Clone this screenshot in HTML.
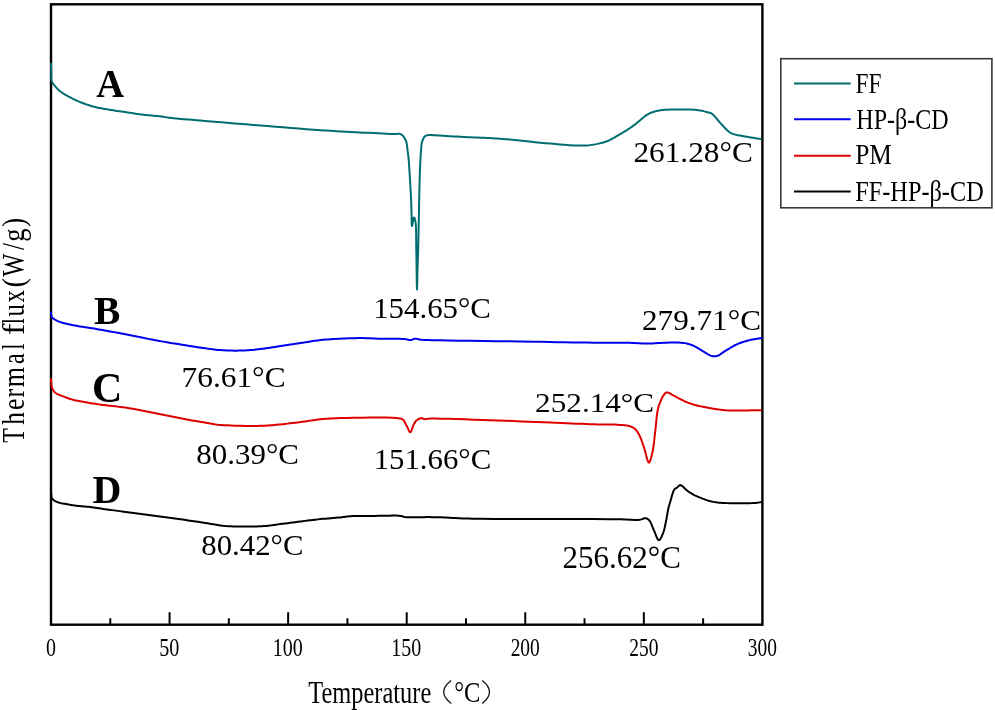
<!DOCTYPE html>
<html><head><meta charset="utf-8"><style>
html,body{margin:0;padding:0;background:#fff;}
body{width:995px;height:710px;overflow:hidden;}
svg{display:block;will-change:transform;}
text{font-family:"Liberation Serif", serif;fill:#000;}
</style></head><body>
<svg width="995" height="710" viewBox="0 0 995 710">
<rect x="51.0" y="4.3" width="711.4" height="620.4" fill="none" stroke="#000" stroke-width="2.4"/>
<path d="M110.28,624.70 V618.20 M169.57,624.70 V612.20 M228.85,624.70 V618.20 M288.13,624.70 V612.20 M347.42,624.70 V618.20 M406.70,624.70 V612.20 M465.98,624.70 V618.20 M525.27,624.70 V612.20 M584.55,624.70 V618.20 M643.83,624.70 V612.20 M703.12,624.70 V618.20" stroke="#000" stroke-width="2" fill="none"/>
<path d="M51.10,63.80 L51.12,64.82 L51.15,65.84 L51.17,66.86 L51.19,67.89 L51.21,68.91 L51.24,69.93 L51.27,70.96 L51.30,72.00 L51.32,73.10 L51.30,74.23 L51.28,75.37 L51.27,76.52 L51.28,77.64 L51.35,78.72 L51.48,79.75 L51.70,80.70 L51.94,81.40 L52.22,82.06 L52.53,82.67 L52.88,83.26 L53.27,83.84 L53.68,84.41 L54.13,84.99 L54.60,85.60 L55.23,86.39 L55.91,87.19 L56.63,87.99 L57.40,88.80 L58.23,89.60 L59.12,90.41 L60.07,91.21 L61.10,92.00 L62.72,93.14 L64.54,94.29 L66.52,95.45 L68.61,96.60 L70.77,97.73 L72.95,98.81 L75.11,99.84 L77.20,100.80 L79.17,101.66 L81.16,102.47 L83.15,103.24 L85.14,103.97 L87.15,104.66 L89.16,105.31 L91.18,105.92 L93.20,106.50 L95.19,107.02 L97.20,107.49 L99.21,107.91 L101.22,108.30 L103.24,108.66 L105.26,109.01 L107.28,109.35 L109.30,109.70 L111.31,110.04 L113.32,110.36 L115.33,110.66 L117.35,110.95 L119.36,111.23 L121.37,111.52 L123.39,111.81 L125.40,112.10 L127.41,112.41 L129.42,112.72 L131.44,113.03 L133.45,113.35 L135.46,113.66 L137.47,113.96 L139.49,114.24 L141.50,114.50 L143.51,114.73 L145.52,114.94 L147.54,115.14 L149.55,115.32 L151.57,115.50 L153.58,115.68 L155.59,115.88 L157.60,116.10 L159.57,116.34 L161.48,116.59 L163.37,116.86 L165.27,117.13 L167.21,117.40 L169.22,117.67 L171.34,117.94 L173.60,118.20 L176.96,118.55 L180.50,118.88 L184.21,119.20 L188.09,119.53 L192.12,119.85 L196.28,120.19 L200.58,120.53 L205.00,120.90 L211.15,121.42 L217.68,121.97 L224.49,122.54 L231.53,123.13 L238.70,123.73 L245.94,124.33 L253.17,124.92 L260.30,125.50 L267.80,126.11 L275.49,126.73 L283.28,127.37 L291.08,127.99 L298.81,128.60 L306.36,129.18 L313.65,129.72 L320.60,130.20 L325.95,130.55 L331.11,130.86 L336.13,131.15 L341.02,131.42 L345.83,131.67 L350.57,131.92 L355.29,132.16 L360.00,132.40 L364.47,132.63 L369.11,132.87 L373.79,133.10 L378.39,133.33 L382.77,133.53 L386.82,133.72 L390.40,133.88 L393.40,134.00 L394.59,134.01 L395.68,133.98 L396.67,133.91 L397.59,133.86 L398.44,133.83 L399.24,133.86 L399.99,133.98 L400.70,134.20 L401.24,134.46 L401.73,134.78 L402.19,135.15 L402.61,135.56 L403.01,136.00 L403.39,136.46 L403.75,136.93 L404.10,137.40 L404.45,137.89 L404.77,138.40 L405.07,138.93 L405.35,139.48 L405.62,140.05 L405.86,140.64 L406.09,141.26 L406.30,141.90 L406.54,142.77 L406.73,143.69 L406.89,144.66 L407.02,145.66 L407.14,146.69 L407.25,147.73 L407.37,148.77 L407.50,149.80 L407.65,150.89 L407.80,151.98 L407.94,153.09 L408.08,154.20 L408.22,155.32 L408.35,156.47 L408.48,157.62 L408.60,158.80 L408.72,160.13 L408.83,161.48 L408.93,162.84 L409.03,164.23 L409.12,165.63 L409.21,167.06 L409.30,168.52 L409.40,170.00 L409.51,171.73 L409.63,173.51 L409.74,175.32 L409.85,177.16 L409.97,179.02 L410.08,180.91 L410.19,182.80 L410.30,184.70 L410.42,186.77 L410.54,188.87 L410.66,191.01 L410.78,193.16 L410.90,195.31 L411.01,197.44 L411.11,199.54 L411.20,201.60 L411.27,203.47 L411.33,205.34 L411.38,207.20 L411.42,209.04 L411.46,210.84 L411.50,212.61 L411.55,214.33 L411.60,216.00 L411.63,217.47 L411.65,219.09 L411.67,220.75 L411.68,222.35 L411.72,223.78 L411.77,224.93 L411.86,225.71 L412.00,226.00 L412.17,225.65 L412.39,224.69 L412.63,223.34 L412.90,221.78 L413.18,220.21 L413.46,218.85 L413.74,217.88 L414.00,217.50 L414.19,217.60 L414.39,217.89 L414.59,218.34 L414.79,218.92 L414.99,219.61 L415.17,220.37 L415.35,221.18 L415.50,222.00 L415.79,224.31 L415.99,227.19 L416.10,230.52 L416.16,234.19 L416.19,238.09 L416.21,242.10 L416.24,246.11 L416.30,250.00 L416.40,255.14 L416.49,261.22 L416.58,267.75 L416.67,274.20 L416.75,280.10 L416.83,284.93 L416.91,288.20 L417.00,289.40 L417.06,288.84 L417.12,287.30 L417.18,285.01 L417.24,282.19 L417.30,279.05 L417.36,275.83 L417.43,272.74 L417.50,270.00 L417.58,267.43 L417.66,264.93 L417.75,262.44 L417.84,259.92 L417.93,257.32 L418.02,254.58 L418.11,251.66 L418.20,248.50 L418.34,242.72 L418.49,235.99 L418.64,228.65 L418.79,221.06 L418.94,213.55 L419.07,206.47 L419.19,200.17 L419.30,195.00 L419.34,192.87 L419.38,190.98 L419.42,189.27 L419.45,187.68 L419.48,186.15 L419.51,184.62 L419.55,183.02 L419.60,181.30 L419.66,179.26 L419.72,177.15 L419.79,175.01 L419.86,172.84 L419.94,170.68 L420.02,168.53 L420.11,166.43 L420.20,164.40 L420.28,162.62 L420.37,160.85 L420.46,159.10 L420.55,157.38 L420.65,155.69 L420.75,154.05 L420.87,152.45 L421.00,150.90 L421.10,149.67 L421.19,148.46 L421.27,147.28 L421.37,146.13 L421.49,145.01 L421.64,143.93 L421.84,142.89 L422.10,141.90 L422.36,141.09 L422.63,140.27 L422.94,139.47 L423.27,138.71 L423.63,137.99 L424.03,137.34 L424.45,136.77 L424.90,136.30 L425.26,136.02 L425.63,135.79 L426.02,135.61 L426.42,135.47 L426.85,135.36 L427.30,135.26 L427.78,135.18 L428.30,135.10 L429.18,135.01 L430.13,134.98 L431.14,135.00 L432.22,135.05 L433.38,135.14 L434.61,135.23 L435.92,135.32 L437.30,135.40 L439.96,135.54 L442.99,135.72 L446.29,135.92 L449.79,136.14 L453.39,136.38 L457.02,136.60 L460.58,136.81 L464.00,137.00 L467.29,137.16 L470.60,137.29 L473.91,137.42 L477.22,137.54 L480.50,137.66 L483.73,137.79 L486.90,137.94 L490.00,138.10 L492.62,138.26 L495.12,138.41 L497.53,138.58 L499.93,138.75 L502.36,138.93 L504.88,139.13 L507.54,139.36 L510.40,139.60 L514.79,140.01 L519.55,140.50 L524.58,141.03 L529.79,141.60 L535.08,142.16 L540.38,142.70 L545.58,143.19 L550.60,143.60 L555.29,143.98 L560.03,144.38 L564.78,144.79 L569.49,145.15 L574.10,145.43 L578.55,145.59 L582.81,145.59 L586.80,145.40 L589.64,145.13 L592.38,144.79 L595.01,144.37 L597.55,143.87 L600.00,143.30 L602.38,142.67 L604.67,141.97 L606.90,141.20 L608.74,140.47 L610.52,139.64 L612.25,138.75 L613.91,137.82 L615.52,136.87 L617.08,135.93 L618.57,135.04 L620.00,134.20 L621.04,133.61 L622.03,133.04 L622.98,132.49 L623.90,131.94 L624.79,131.40 L625.68,130.85 L626.58,130.29 L627.50,129.70 L628.44,129.08 L629.36,128.47 L630.27,127.85 L631.18,127.22 L632.11,126.57 L633.06,125.89 L634.06,125.17 L635.10,124.40 L636.61,123.21 L638.20,121.86 L639.87,120.41 L641.58,118.91 L643.33,117.44 L645.09,116.06 L646.86,114.82 L648.60,113.80 L650.10,113.09 L651.63,112.47 L653.17,111.94 L654.71,111.49 L656.25,111.10 L657.77,110.76 L659.26,110.47 L660.70,110.20 L661.87,110.01 L662.97,109.88 L664.04,109.79 L665.10,109.73 L666.18,109.69 L667.31,109.67 L668.50,109.64 L669.80,109.60 L671.95,109.53 L674.35,109.48 L676.94,109.44 L679.61,109.41 L682.28,109.40 L684.86,109.41 L687.26,109.44 L689.40,109.50 L690.69,109.55 L691.90,109.60 L693.03,109.66 L694.12,109.73 L695.18,109.82 L696.24,109.92 L697.30,110.05 L698.40,110.20 L699.55,110.39 L700.73,110.60 L701.92,110.84 L703.10,111.10 L704.26,111.38 L705.37,111.65 L706.42,111.93 L707.40,112.20 L708.05,112.37 L708.66,112.52 L709.23,112.66 L709.78,112.80 L710.33,112.97 L710.87,113.18 L711.42,113.45 L712.00,113.80 L712.91,114.50 L713.83,115.38 L714.76,116.41 L715.70,117.53 L716.65,118.70 L717.60,119.88 L718.55,121.03 L719.50,122.10 L720.44,123.13 L721.40,124.18 L722.36,125.25 L723.33,126.30 L724.28,127.32 L725.22,128.29 L726.13,129.19 L727.00,130.00 L727.59,130.53 L728.12,131.01 L728.64,131.47 L729.14,131.89 L729.67,132.29 L730.24,132.67 L730.88,133.04 L731.60,133.40 L732.91,133.92 L734.40,134.38 L736.04,134.79 L737.79,135.16 L739.61,135.51 L741.46,135.84 L743.30,136.17 L745.10,136.50 L747.02,136.85 L748.98,137.19 L750.96,137.50 L752.96,137.80 L754.98,138.10 L756.99,138.40 L759.00,138.69 L761.00,139.00" stroke="#006e6e" stroke-width="2" fill="none" stroke-linejoin="round" stroke-linecap="round"/>
<path d="M51.00,312.20 L51.05,312.68 L51.09,313.18 L51.13,313.68 L51.16,314.18 L51.21,314.67 L51.28,315.14 L51.37,315.59 L51.50,316.00 L51.63,316.32 L51.77,316.61 L51.91,316.89 L52.08,317.16 L52.27,317.42 L52.48,317.68 L52.72,317.93 L53.00,318.20 L53.52,318.64 L54.13,319.08 L54.80,319.52 L55.55,319.95 L56.36,320.38 L57.23,320.80 L58.14,321.21 L59.10,321.60 L60.71,322.18 L62.51,322.73 L64.46,323.26 L66.52,323.76 L68.66,324.24 L70.85,324.71 L73.04,325.16 L75.20,325.60 L77.57,326.05 L79.96,326.46 L82.39,326.84 L84.85,327.21 L87.37,327.57 L89.94,327.95 L92.58,328.35 L95.30,328.80 L98.77,329.40 L102.40,330.04 L106.15,330.71 L109.97,331.41 L113.85,332.13 L117.73,332.85 L121.60,333.58 L125.40,334.30 L129.17,335.03 L132.95,335.79 L136.72,336.56 L140.50,337.33 L144.27,338.10 L148.05,338.86 L151.82,339.59 L155.60,340.30 L159.36,340.98 L163.12,341.63 L166.88,342.27 L170.64,342.90 L174.40,343.51 L178.17,344.11 L181.93,344.71 L185.70,345.30 L189.53,345.90 L193.46,346.53 L197.43,347.15 L201.38,347.77 L205.25,348.34 L209.00,348.87 L212.57,349.33 L215.90,349.70 L218.16,349.91 L220.31,350.09 L222.37,350.23 L224.36,350.34 L226.30,350.43 L228.21,350.50 L230.10,350.56 L232.00,350.60 L233.68,350.63 L235.32,350.64 L236.93,350.64 L238.53,350.62 L240.12,350.59 L241.72,350.54 L243.34,350.48 L245.00,350.40 L246.82,350.30 L248.65,350.18 L250.49,350.05 L252.35,349.90 L254.24,349.72 L256.15,349.54 L258.10,349.33 L260.10,349.10 L262.48,348.80 L264.93,348.46 L267.43,348.09 L269.97,347.70 L272.54,347.30 L275.11,346.89 L277.67,346.49 L280.20,346.10 L282.71,345.73 L285.22,345.35 L287.74,344.98 L290.25,344.60 L292.76,344.23 L295.27,343.85 L297.79,343.48 L300.30,343.10 L302.81,342.71 L305.32,342.31 L307.83,341.90 L310.34,341.50 L312.86,341.11 L315.37,340.74 L317.88,340.40 L320.40,340.10 L322.91,339.84 L325.42,339.62 L327.93,339.42 L330.44,339.25 L332.96,339.10 L335.47,338.96 L337.99,338.83 L340.50,338.70 L343.01,338.58 L345.52,338.47 L348.04,338.36 L350.55,338.28 L353.06,338.20 L355.57,338.15 L358.09,338.11 L360.60,338.10 L363.10,338.12 L365.58,338.17 L368.06,338.25 L370.54,338.34 L373.03,338.44 L375.55,338.54 L378.10,338.63 L380.70,338.70 L383.72,338.75 L386.95,338.77 L390.28,338.78 L393.61,338.79 L396.84,338.81 L399.85,338.86 L402.54,338.95 L404.80,339.10 L405.77,339.22 L406.65,339.38 L407.45,339.57 L408.19,339.75 L408.89,339.92 L409.57,340.04 L410.23,340.11 L410.90,340.10 L411.44,340.01 L411.95,339.84 L412.43,339.63 L412.90,339.40 L413.37,339.16 L413.86,338.95 L414.36,338.79 L414.90,338.70 L415.56,338.69 L416.23,338.76 L416.90,338.88 L417.60,339.05 L418.34,339.23 L419.13,339.42 L419.98,339.58 L420.90,339.70 L422.67,339.85 L424.58,339.95 L426.64,340.03 L428.88,340.09 L431.31,340.14 L433.96,340.18 L436.85,340.23 L440.00,340.30 L448.37,340.47 L458.69,340.65 L470.43,340.83 L483.09,341.01 L496.14,341.18 L509.07,341.36 L521.36,341.53 L532.50,341.70 L540.90,341.84 L549.14,341.98 L557.20,342.13 L565.05,342.27 L572.69,342.40 L580.07,342.52 L587.18,342.62 L594.00,342.70 L599.04,342.73 L603.96,342.74 L608.73,342.73 L613.35,342.71 L617.81,342.70 L622.07,342.70 L626.14,342.73 L630.00,342.80 L632.60,342.88 L635.09,343.00 L637.46,343.13 L639.74,343.27 L641.95,343.40 L644.10,343.51 L646.21,343.58 L648.30,343.60 L649.97,343.57 L651.55,343.50 L653.07,343.40 L654.57,343.29 L656.07,343.17 L657.62,343.06 L659.26,342.97 L661.00,342.90 L663.57,342.82 L666.40,342.71 L669.39,342.60 L672.44,342.52 L675.48,342.49 L678.39,342.53 L681.10,342.65 L683.50,342.90 L684.93,343.13 L686.26,343.38 L687.51,343.67 L688.70,344.00 L689.85,344.37 L690.98,344.77 L692.13,345.21 L693.30,345.70 L694.57,346.28 L695.83,346.95 L697.08,347.67 L698.33,348.42 L699.56,349.20 L700.79,349.97 L702.00,350.71 L703.20,351.40 L704.29,352.03 L705.37,352.69 L706.45,353.36 L707.52,354.01 L708.57,354.62 L709.60,355.15 L710.61,355.59 L711.60,355.90 L712.33,356.07 L713.04,356.19 L713.72,356.27 L714.40,356.30 L715.08,356.28 L715.77,356.21 L716.47,356.08 L717.20,355.90 L718.20,355.54 L719.21,355.03 L720.25,354.40 L721.30,353.70 L722.37,352.94 L723.46,352.17 L724.57,351.41 L725.70,350.70 L727.01,349.91 L728.36,349.08 L729.73,348.24 L731.12,347.39 L732.54,346.56 L733.97,345.75 L735.43,345.00 L736.90,344.30 L738.43,343.65 L739.99,343.04 L741.57,342.46 L743.18,341.93 L744.79,341.42 L746.40,340.95 L748.01,340.51 L749.60,340.10 L751.11,339.75 L752.61,339.44 L754.11,339.18 L755.61,338.93 L757.11,338.71 L758.60,338.48 L760.10,338.25 L761.60,338.00" stroke="#0000ee" stroke-width="2" fill="none" stroke-linejoin="round" stroke-linecap="round"/>
<path d="M51.00,379.10 L51.04,379.59 L51.07,380.07 L51.10,380.55 L51.13,381.03 L51.16,381.52 L51.20,382.00 L51.25,382.50 L51.30,383.00 L51.36,383.56 L51.40,384.13 L51.45,384.71 L51.50,385.29 L51.58,385.87 L51.68,386.46 L51.82,387.03 L52.00,387.60 L52.25,388.24 L52.54,388.88 L52.87,389.53 L53.23,390.18 L53.64,390.81 L54.08,391.41 L54.57,391.98 L55.10,392.50 L55.77,393.04 L56.51,393.52 L57.31,393.96 L58.16,394.36 L59.05,394.75 L59.98,395.12 L60.93,395.50 L61.90,395.90 L63.16,396.42 L64.50,396.94 L65.90,397.46 L67.35,397.97 L68.82,398.47 L70.29,398.94 L71.76,399.39 L73.20,399.80 L74.59,400.16 L76.00,400.49 L77.40,400.80 L78.81,401.08 L80.21,401.34 L81.62,401.60 L83.01,401.85 L84.40,402.10 L85.74,402.34 L87.07,402.57 L88.40,402.78 L89.72,402.99 L91.05,403.20 L92.37,403.40 L93.68,403.60 L95.00,403.80 L96.27,403.99 L97.50,404.18 L98.72,404.37 L99.94,404.55 L101.19,404.74 L102.49,404.92 L103.85,405.11 L105.30,405.30 L107.49,405.57 L109.86,405.83 L112.35,406.09 L114.94,406.35 L117.58,406.63 L120.22,406.93 L122.85,407.25 L125.40,407.60 L127.92,407.98 L130.43,408.40 L132.95,408.83 L135.46,409.29 L137.97,409.76 L140.48,410.24 L142.99,410.72 L145.50,411.20 L148.01,411.69 L150.53,412.19 L153.04,412.71 L155.55,413.23 L158.06,413.75 L160.58,414.27 L163.09,414.79 L165.60,415.30 L168.11,415.81 L170.62,416.32 L173.13,416.83 L175.65,417.34 L178.16,417.85 L180.67,418.34 L183.18,418.83 L185.70,419.30 L188.24,419.76 L190.84,420.21 L193.46,420.66 L196.06,421.09 L198.63,421.52 L201.13,421.93 L203.53,422.32 L205.80,422.70 L207.42,422.98 L208.92,423.26 L210.34,423.53 L211.73,423.79 L213.14,424.04 L214.60,424.28 L216.17,424.50 L217.90,424.70 L220.79,424.96 L224.00,425.19 L227.44,425.37 L231.02,425.53 L234.65,425.66 L238.25,425.76 L241.73,425.84 L245.00,425.90 L247.68,425.94 L250.30,425.96 L252.88,425.97 L255.42,425.96 L257.91,425.93 L260.35,425.87 L262.75,425.80 L265.10,425.70 L267.08,425.59 L268.98,425.46 L270.83,425.32 L272.65,425.16 L274.48,424.98 L276.33,424.79 L278.23,424.60 L280.20,424.40 L282.58,424.16 L285.03,423.90 L287.53,423.62 L290.07,423.33 L292.64,423.04 L295.21,422.73 L297.77,422.42 L300.30,422.10 L302.81,421.76 L305.33,421.40 L307.84,421.02 L310.35,420.63 L312.86,420.25 L315.37,419.90 L317.88,419.58 L320.40,419.30 L322.84,419.07 L325.18,418.87 L327.49,418.69 L329.81,418.54 L332.22,418.41 L334.76,418.30 L337.50,418.20 L340.50,418.10 L346.57,417.94 L353.92,417.77 L362.05,417.64 L370.46,417.55 L378.64,417.52 L386.09,417.59 L392.31,417.78 L396.80,418.10 L397.87,418.21 L398.79,418.30 L399.61,418.39 L400.34,418.49 L400.99,418.63 L401.61,418.84 L402.20,419.12 L402.80,419.50 L403.44,420.07 L404.01,420.78 L404.53,421.60 L405.00,422.48 L405.45,423.41 L405.89,424.34 L406.34,425.25 L406.80,426.10 L407.25,426.96 L407.70,427.93 L408.15,428.95 L408.59,429.95 L409.02,430.84 L409.45,431.56 L409.88,432.04 L410.30,432.20 L410.76,431.92 L411.21,431.21 L411.66,430.18 L412.09,428.94 L412.53,427.60 L412.98,426.27 L413.43,425.07 L413.90,424.10 L414.25,423.50 L414.59,422.93 L414.93,422.38 L415.27,421.86 L415.63,421.37 L416.02,420.92 L416.44,420.49 L416.90,420.10 L417.45,419.72 L418.07,419.34 L418.74,419.00 L419.42,418.69 L420.11,418.44 L420.77,418.24 L421.37,418.13 L421.90,418.10 L422.19,418.15 L422.44,418.25 L422.66,418.39 L422.88,418.55 L423.10,418.72 L423.33,418.88 L423.60,419.01 L423.90,419.10 L424.45,419.16 L425.03,419.15 L425.65,419.09 L426.34,418.99 L427.10,418.87 L427.95,418.75 L428.91,418.66 L430.00,418.60 L434.55,418.56 L440.69,418.64 L448.04,418.81 L456.25,419.05 L464.95,419.33 L473.76,419.63 L482.34,419.93 L490.30,420.20 L497.92,420.47 L505.66,420.76 L513.45,421.06 L521.21,421.38 L528.88,421.70 L536.38,422.02 L543.65,422.32 L550.60,422.60 L556.06,422.82 L561.37,423.04 L566.55,423.26 L571.61,423.47 L576.55,423.68 L581.39,423.87 L586.14,424.04 L590.80,424.20 L594.79,424.31 L598.82,424.38 L602.83,424.44 L606.74,424.49 L610.48,424.54 L613.99,424.62 L617.18,424.74 L620.00,424.90 L621.39,425.00 L622.66,425.08 L623.85,425.16 L624.96,425.26 L626.01,425.38 L627.02,425.53 L628.01,425.74 L629.00,426.00 L629.85,426.26 L630.68,426.54 L631.49,426.85 L632.27,427.19 L633.02,427.57 L633.75,427.99 L634.44,428.47 L635.10,429.00 L635.78,429.66 L636.40,430.38 L636.99,431.17 L637.54,432.02 L638.07,432.91 L638.59,433.84 L639.09,434.81 L639.60,435.80 L640.22,437.11 L640.82,438.50 L641.39,439.96 L641.94,441.47 L642.48,443.03 L643.01,444.61 L643.55,446.21 L644.10,447.80 L644.71,449.77 L645.33,452.08 L645.94,454.53 L646.55,456.94 L647.15,459.14 L647.75,460.94 L648.33,462.15 L648.90,462.60 L649.37,462.33 L649.83,461.59 L650.30,460.47 L650.75,459.05 L651.19,457.44 L651.62,455.74 L652.02,454.02 L652.40,452.40 L652.90,450.00 L653.34,447.36 L653.73,444.53 L654.09,441.58 L654.42,438.56 L654.75,435.55 L655.07,432.61 L655.40,429.80 L655.70,427.22 L655.97,424.58 L656.23,421.94 L656.48,419.33 L656.74,416.81 L657.02,414.41 L657.34,412.19 L657.70,410.20 L657.95,409.07 L658.20,408.03 L658.46,407.06 L658.73,406.15 L659.01,405.26 L659.32,404.39 L659.65,403.51 L660.00,402.60 L660.39,401.62 L660.81,400.60 L661.26,399.58 L661.72,398.56 L662.20,397.59 L662.69,396.67 L663.19,395.83 L663.70,395.10 L664.05,394.64 L664.39,394.18 L664.73,393.75 L665.08,393.36 L665.45,393.01 L665.83,392.73 L666.25,392.52 L666.70,392.40 L667.32,392.39 L667.99,392.55 L668.69,392.84 L669.43,393.22 L670.21,393.67 L671.03,394.15 L671.90,394.64 L672.80,395.10 L674.36,395.87 L676.08,396.77 L677.92,397.76 L679.85,398.80 L681.84,399.85 L683.85,400.86 L685.85,401.79 L687.80,402.60 L689.64,403.28 L691.46,403.89 L693.28,404.45 L695.11,404.97 L696.97,405.45 L698.88,405.91 L700.85,406.36 L702.90,406.80 L705.46,407.33 L708.09,407.85 L710.79,408.34 L713.57,408.80 L716.43,409.23 L719.37,409.61 L722.39,409.93 L725.50,410.20 L729.55,410.43 L733.80,410.53 L738.22,410.54 L742.74,410.49 L747.33,410.41 L751.93,410.31 L756.51,410.23 L761.00,410.20" stroke="#dd0000" stroke-width="2" fill="none" stroke-linejoin="round" stroke-linecap="round"/>
<path d="M51.20,493.60 L51.24,494.03 L51.28,494.47 L51.31,494.92 L51.34,495.36 L51.38,495.80 L51.43,496.22 L51.51,496.62 L51.60,497.00 L51.69,497.28 L51.78,497.55 L51.88,497.81 L52.00,498.06 L52.12,498.30 L52.26,498.53 L52.42,498.77 L52.60,499.00 L52.85,499.29 L53.13,499.57 L53.44,499.84 L53.77,500.11 L54.12,500.37 L54.50,500.62 L54.89,500.86 L55.30,501.10 L55.88,501.40 L56.51,501.68 L57.18,501.95 L57.88,502.21 L58.61,502.45 L59.34,502.68 L60.07,502.90 L60.80,503.10 L61.55,503.28 L62.31,503.44 L63.09,503.59 L63.87,503.71 L64.65,503.83 L65.44,503.95 L66.22,504.07 L67.00,504.20 L67.77,504.34 L68.53,504.48 L69.29,504.62 L70.05,504.77 L70.82,504.91 L71.60,505.04 L72.39,505.18 L73.20,505.30 L74.13,505.43 L75.07,505.55 L76.03,505.67 L77.01,505.78 L77.99,505.89 L78.99,505.99 L79.99,506.10 L81.00,506.20 L82.08,506.30 L83.15,506.39 L84.22,506.48 L85.31,506.56 L86.43,506.65 L87.57,506.75 L88.76,506.86 L90.00,507.00 L91.69,507.21 L93.42,507.45 L95.22,507.71 L97.08,507.98 L99.01,508.28 L101.02,508.58 L103.11,508.89 L105.30,509.20 L108.59,509.65 L112.13,510.12 L115.88,510.62 L119.77,511.13 L123.73,511.65 L127.71,512.17 L131.66,512.69 L135.50,513.20 L139.26,513.70 L143.03,514.19 L146.79,514.69 L150.55,515.18 L154.31,515.68 L158.07,516.18 L161.84,516.69 L165.60,517.20 L169.37,517.72 L173.15,518.25 L176.93,518.78 L180.70,519.32 L184.48,519.86 L188.25,520.40 L192.03,520.95 L195.80,521.50 L199.61,522.08 L203.49,522.71 L207.39,523.36 L211.27,524.00 L215.11,524.61 L218.85,525.16 L222.46,525.64 L225.90,526.00 L228.49,526.21 L230.97,526.36 L233.37,526.47 L235.71,526.53 L238.02,526.57 L240.32,526.59 L242.64,526.60 L245.00,526.60 L247.40,526.60 L249.81,526.59 L252.24,526.57 L254.66,526.53 L257.06,526.46 L259.44,526.37 L261.79,526.25 L264.10,526.10 L266.17,525.92 L268.18,525.71 L270.16,525.47 L272.13,525.21 L274.10,524.94 L276.08,524.66 L278.11,524.37 L280.20,524.10 L282.61,523.79 L285.07,523.47 L287.57,523.14 L290.11,522.81 L292.66,522.48 L295.22,522.15 L297.77,521.82 L300.30,521.50 L302.81,521.19 L305.32,520.87 L307.84,520.55 L310.35,520.24 L312.86,519.94 L315.37,519.65 L317.89,519.37 L320.40,519.10 L322.96,518.85 L325.58,518.63 L328.24,518.41 L330.88,518.21 L333.46,518.01 L335.96,517.81 L338.32,517.61 L340.50,517.40 L341.90,517.24 L343.16,517.08 L344.35,516.91 L345.49,516.75 L346.64,516.59 L347.84,516.44 L349.15,516.31 L350.60,516.20 L353.14,516.07 L355.94,515.98 L358.94,515.94 L362.09,515.91 L365.33,515.91 L368.60,515.91 L371.84,515.91 L375.00,515.90 L378.34,515.86 L381.93,515.79 L385.61,515.70 L389.27,515.64 L392.75,515.60 L395.92,515.62 L398.65,515.71 L400.80,515.90 L401.45,516.01 L401.97,516.15 L402.41,516.29 L402.80,516.45 L403.20,516.60 L403.63,516.75 L404.15,516.89 L404.80,517.00 L406.95,517.19 L409.72,517.28 L412.93,517.29 L416.44,517.25 L420.06,517.19 L423.64,517.13 L427.01,517.09 L430.00,517.10 L432.07,517.13 L434.05,517.17 L435.95,517.21 L437.80,517.26 L439.61,517.31 L441.42,517.36 L443.24,517.43 L445.10,517.50 L446.95,517.58 L448.77,517.68 L450.58,517.79 L452.39,517.90 L454.22,518.01 L456.09,518.12 L458.01,518.21 L460.00,518.30 L462.35,518.39 L464.62,518.46 L466.89,518.53 L469.24,518.59 L471.78,518.65 L474.57,518.70 L477.72,518.75 L481.30,518.80 L493.79,518.91 L510.66,518.97 L530.43,519.01 L551.62,519.04 L572.75,519.07 L592.35,519.11 L608.92,519.18 L621.00,519.30 L624.22,519.38 L627.11,519.51 L629.70,519.66 L632.03,519.80 L634.15,519.91 L636.09,519.96 L637.89,519.93 L639.60,519.80 L640.53,519.63 L641.38,519.39 L642.18,519.10 L642.92,518.79 L643.62,518.52 L644.30,518.30 L644.95,518.19 L645.60,518.20 L646.14,518.31 L646.65,518.47 L647.14,518.68 L647.62,518.95 L648.08,519.26 L648.53,519.63 L648.97,520.04 L649.40,520.50 L650.04,521.36 L650.64,522.42 L651.19,523.62 L651.73,524.93 L652.26,526.30 L652.78,527.68 L653.33,529.03 L653.90,530.30 L654.50,531.66 L655.12,533.21 L655.75,534.83 L656.38,536.41 L657.02,537.84 L657.65,539.01 L658.28,539.80 L658.90,540.10 L659.43,539.93 L659.97,539.44 L660.51,538.68 L661.05,537.72 L661.58,536.64 L662.08,535.50 L662.56,534.36 L663.00,533.30 L663.49,531.99 L663.93,530.58 L664.33,529.09 L664.70,527.55 L665.04,525.98 L665.36,524.40 L665.68,522.83 L666.00,521.30 L666.31,519.78 L666.59,518.23 L666.86,516.67 L667.11,515.11 L667.37,513.57 L667.63,512.06 L667.90,510.60 L668.20,509.20 L668.46,508.09 L668.73,507.04 L668.99,506.02 L669.27,505.02 L669.56,504.03 L669.86,503.02 L670.17,501.98 L670.50,500.90 L670.91,499.50 L671.32,497.98 L671.75,496.38 L672.20,494.78 L672.68,493.23 L673.18,491.81 L673.72,490.58 L674.30,489.60 L674.65,489.17 L675.01,488.82 L675.38,488.52 L675.76,488.26 L676.15,488.03 L676.53,487.80 L676.92,487.56 L677.30,487.30 L677.67,486.99 L678.02,486.64 L678.37,486.27 L678.72,485.91 L679.08,485.59 L679.46,485.33 L679.86,485.16 L680.30,485.10 L681.08,485.30 L681.93,485.80 L682.85,486.55 L683.82,487.45 L684.81,488.43 L685.82,489.42 L686.82,490.33 L687.80,491.10 L688.71,491.72 L689.60,492.32 L690.49,492.89 L691.38,493.45 L692.31,493.99 L693.28,494.52 L694.30,495.06 L695.40,495.60 L697.03,496.35 L698.82,497.13 L700.72,497.91 L702.69,498.68 L704.69,499.41 L706.69,500.09 L708.64,500.69 L710.50,501.20 L712.01,501.56 L713.43,501.86 L714.81,502.11 L716.18,502.31 L717.60,502.49 L719.10,502.63 L720.72,502.77 L722.50,502.90 L726.04,503.09 L730.26,503.22 L734.91,503.29 L739.74,503.30 L744.49,503.27 L748.90,503.19 L752.72,503.07 L755.70,502.90 L756.68,502.81 L757.55,502.71 L758.31,502.60 L759.01,502.48 L759.67,502.36 L760.32,502.24 L760.98,502.12 L761.70,502.00" stroke="#000000" stroke-width="2" fill="none" stroke-linejoin="round" stroke-linecap="round"/>
<text transform="translate(46.00,655.56) scale(0.8232,1)" font-size="24.30" font-weight="normal">0</text>
<text transform="translate(159.25,655.56) scale(0.8323,1)" font-size="24.30" font-weight="normal">50</text>
<text transform="translate(272.68,655.56) scale(0.8232,1)" font-size="24.30" font-weight="normal">100</text>
<text transform="translate(391.25,655.56) scale(0.8232,1)" font-size="24.30" font-weight="normal">150</text>
<text transform="translate(510.64,655.56) scale(0.7999,1)" font-size="24.30" font-weight="normal">200</text>
<text transform="translate(629.21,655.56) scale(0.7999,1)" font-size="24.30" font-weight="normal">250</text>
<text transform="translate(747.78,655.56) scale(0.7999,1)" font-size="24.30" font-weight="normal">300</text>
<text transform="translate(96.21,96.80) scale(0.9501,1)" font-size="40.61" font-weight="bold">A</text>
<text transform="translate(94.01,323.90) scale(0.9733,1)" font-size="40.61" font-weight="bold">B</text>
<text transform="translate(91.90,401.68) scale(0.9983,1)" font-size="42.09" font-weight="bold">C</text>
<text transform="translate(92.60,502.70) scale(0.9776,1)" font-size="40.92" font-weight="bold">D</text>
<text transform="translate(633.39,161.97) scale(1.0870,1)" font-size="28.82" font-weight="normal">261.28°C</text>
<text transform="translate(373.18,317.95) scale(1.0236,1)" font-size="30.15" font-weight="normal">154.65°C</text>
<text transform="translate(642.00,329.87) scale(1.0760,1)" font-size="28.97" font-weight="normal">279.71°C</text>
<text transform="translate(181.56,386.54) scale(1.0302,1)" font-size="30.44" font-weight="normal">76.61°C</text>
<text transform="translate(535.10,411.78) scale(1.1107,1)" font-size="28.09" font-weight="normal">252.14°C</text>
<text transform="translate(196.26,464.05) scale(1.0281,1)" font-size="30.15" font-weight="normal">80.39°C</text>
<text transform="translate(373.68,468.95) scale(1.0217,1)" font-size="30.15" font-weight="normal">151.66°C</text>
<text transform="translate(201.27,555.06) scale(1.0475,1)" font-size="29.41" font-weight="normal">80.42°C</text>
<text transform="translate(562.40,567.83) scale(0.9862,1)" font-size="31.47" font-weight="normal">256.62°C</text>
<rect x="780.8" y="58.7" width="211.1" height="149.1" fill="none" stroke="#383838" stroke-width="1.6"/>
<path d="M794,83.6 H850.7" stroke="#006e6e" stroke-width="2"/>
<path d="M794,119.3 H850.7" stroke="#0000ee" stroke-width="2"/>
<path d="M794,155.8 H850.7" stroke="#dd0000" stroke-width="2"/>
<path d="M794,191.5 H850.7" stroke="#000000" stroke-width="2"/>
<text transform="translate(855.60,93.10) scale(0.7763,1)" font-size="30.08" font-weight="normal">FF</text>
<text transform="translate(856.28,128.60) scale(0.8038,1)" font-size="29.92" font-weight="normal">HP-β-CD</text>
<text transform="translate(855.24,164.40) scale(0.8557,1)" font-size="29.62" font-weight="normal">PM</text>
<text transform="translate(855.27,200.60) scale(0.8374,1)" font-size="29.01" font-weight="normal">FF-HP-β-CD</text>
<text transform="translate(308.31,702.70) scale(0.7956,1)" font-size="30.69" font-weight="normal">Temperature</text>
<path d="M451.2,680.6 Q436.2,692 451.2,703.4" stroke="#111" stroke-width="1.3" fill="none"/>
<text transform="translate(454.29,702.30) scale(0.8248,1)" font-size="29.78" font-weight="normal">°C</text>
<path d="M482.2,680.6 Q496.8,692 482.2,703.4" stroke="#111" stroke-width="1.3" fill="none"/>
<text transform="translate(23.90,442.68) rotate(-90) scale(0.7803,1)" font-size="30.53">T</text>
<text transform="translate(23.90,424.65) rotate(-90) scale(0.8274,1)" font-size="30.53">h</text>
<text transform="translate(23.90,409.93) rotate(-90) scale(0.8409,1)" font-size="30.53">e</text>
<text transform="translate(23.90,397.62) rotate(-90) scale(0.8483,1)" font-size="30.53">r</text>
<text transform="translate(23.90,387.22) rotate(-90) scale(0.8528,1)" font-size="30.53">m</text>
<text transform="translate(23.90,364.04) rotate(-90) scale(0.7877,1)" font-size="30.53">a</text>
<text transform="translate(23.90,349.65) rotate(-90) scale(0.7369,1)" font-size="30.53">l</text>
<text transform="translate(23.90,335.36) rotate(-90) scale(1.1597,1)" font-size="30.53">f</text>
<text transform="translate(23.90,323.92) rotate(-90) scale(0.6823,1)" font-size="30.53">l</text>
<text transform="translate(23.90,316.57) rotate(-90) scale(0.8153,1)" font-size="30.53">u</text>
<text transform="translate(23.90,302.45) rotate(-90) scale(0.8188,1)" font-size="30.53">x</text>
<text transform="translate(23.90,287.59) rotate(-90) scale(0.9375,1)" font-size="30.53">(</text>
<text transform="translate(23.90,276.80) rotate(-90) scale(0.8013,1)" font-size="30.53">W</text>
<text transform="translate(23.90,249.90) rotate(-90) scale(0.8217,1)" font-size="30.53">/</text>
<text transform="translate(23.90,241.80) rotate(-90) scale(0.8733,1)" font-size="30.53">g</text>
<text transform="translate(23.90,226.71) rotate(-90) scale(0.8817,1)" font-size="30.53">)</text>
</svg>
</body></html>
